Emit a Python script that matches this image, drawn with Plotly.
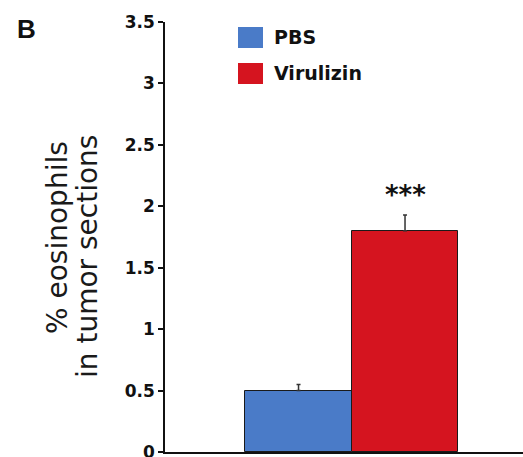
import plotly.graph_objects as go

# ---- data ----
groups = ["PBS", "Virulizin"]
values = [0.50, 1.80]
errors = [0.05, 0.13]
colors = ["#4a7bc8", "#d5141f"]
significance = ["", "***"]
ytick_vals = [0, 0.5, 1, 1.5, 2, 2.5, 3, 3.5]
ytick_text = ["0", "0.5", "1", "1.5", "2", "2.5", "3", "3.5"]
ytitle_lines = ["% eosinophils", "in tumor sections"]
panel_label = "B"

W, H = 523, 457
ML, MR, MT, MB = 165, 0, 22, 5
PW, PH = W - ML - MR, H - MT - MB

def px_x(p):  # pixel -> paper x
    return (p - ML) / PW

def px_y(p):  # pixel -> paper y
    return (H - MB - p) / PH

fig = go.Figure()
xpos = list(range(len(groups)))
for i, g in enumerate(groups):
    fig.add_trace(go.Bar(
        x=[xpos[i]], y=[values[i]], width=1, name=g,
        marker=dict(color=colors[i], line=dict(color="#1a1a1a", width=1)),
        error_y=dict(type="data", array=[errors[i]], arrayminus=[0], symmetric=False,
                     color="#333333", thickness=1.5, width=2),
        showlegend=False,
    ))

annotations = []
for i, s in enumerate(significance):
    if s:
        annotations.append(dict(x=xpos[i], y=values[i] + errors[i], xref="x", yref="y",
                                text="<b>" + s + "</b>", showarrow=False,
                                yanchor="bottom", yshift=3,
                                font=dict(family="DejaVu Sans", size=26, color="#111111")))

# custom legend
shapes = []
sw_top = [27, 63]
for i, g in enumerate(groups):
    t = sw_top[i]
    shapes.append(dict(type="rect", xref="paper", yref="paper",
                       x0=px_x(238), x1=px_x(263), y0=px_y(t + 21), y1=px_y(t),
                       fillcolor=colors[i], line=dict(width=0)))
    annotations.append(dict(x=px_x(272), y=px_y(t + 10.5), xref="paper", yref="paper",
                            text="<b>" + g + "</b>", showarrow=False,
                            xanchor="left", yanchor="middle",
                            font=dict(family="DejaVu Sans", size=19, color="#111111")))

# y title (two lines)
title_pos = [(57, 238), (87, 257)]
for line, (tx, ty) in zip(ytitle_lines, title_pos):
    annotations.append(dict(x=px_x(tx), y=px_y(ty), xref="paper", yref="paper",
                            text=line, textangle=-90, showarrow=False,
                            xanchor="center", yanchor="middle",
                            font=dict(family="DejaVu Sans", size=28, color="#1a1a1a")))

annotations.append(dict(x=px_x(15), y=px_y(12), xref="paper", yref="paper",
                        text="<b>" + panel_label + "</b>", showarrow=False,
                        xanchor="left", yanchor="top",
                        font=dict(family="Liberation Sans", size=26, color="#111111")))

fig.update_layout(
    width=W, height=H,
    margin=dict(l=ML, r=MR, t=MT, b=MB, autoexpand=False),
    paper_bgcolor="white", plot_bgcolor="white",
    bargap=0,
    xaxis=dict(range=[-1.254, 2.108], showline=True, linecolor="#111111", linewidth=1.5,
               showticklabels=False, ticks="", showgrid=False, zeroline=False,
               fixedrange=True, automargin=False),
    yaxis=dict(range=[0, 3.5], tickvals=ytick_vals, ticktext=ytick_text,
               showline=True, linecolor="#111111", linewidth=1.5,
               ticks="outside", ticklen=5, tickwidth=1.5, tickcolor="#111111",
               ticklabeloverflow="allow", automargin=False,
               tickfont=dict(family="DejaVu Sans", size=17, color="#111111", weight="bold"),
               showgrid=False, zeroline=False),
    annotations=annotations, shapes=shapes,
)
fig.write_html("out.html")
